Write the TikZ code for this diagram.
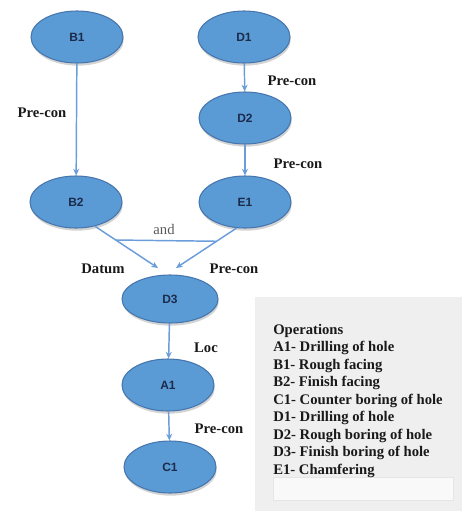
\documentclass[tikz,border=0pt]{standalone}
\usepackage{fontspec}
\setmainfont{Liberation Serif}
\setsansfont{Liberation Sans}
\usepackage{tikz}
\usetikzlibrary{arrows.meta, positioning, shapes.geometric, calc, shadows}
\definecolor{opfill}{HTML}{5B9BD5}
\definecolor{opborder}{HTML}{4676AD}
\definecolor{optext}{HTML}{1C2B4A}
\definecolor{linkblue}{HTML}{6A9DDA}
\definecolor{legendgray}{HTML}{EFEFEF}

\begin{document}
\begin{tikzpicture}[x=0.75pt, y=-0.75pt,
    op/.style={ellipse, draw=opborder, fill=opfill, line width=0.8pt,
        minimum width=69pt, minimum height=39pt, inner sep=0pt,
        font=\sffamily\bfseries\fontsize{9}{10}\selectfont, text=optext,
        drop shadow={opacity=0.35, shadow xshift=0.6pt, shadow yshift=-2pt}},
    link/.style={draw=linkblue, line width=1.1pt},
    rel/.style={link, -{Stealth[length=5pt, width=4.5pt]}},
    lbl/.style={font=\bfseries\fontsize{11}{13}\selectfont, text=black!90}]
    \useasboundingbox (0,0) rectangle (462,511);
    % legend box
    \fill[legendgray] (255,297) rectangle (462,511);
    \draw[black!10, fill=white!60!legendgray] (273,477) rectangle (453,500);
    \node[anchor=north west, align=left, inner sep=0pt, text=black!90,
        font=\bfseries\fontsize{11}{13.1}\selectfont] (ops) at (273,324)
        {Operations\\A1- Drilling of hole\\B1- Rough facing\\B2- Finish facing\\
         C1- Counter boring of hole\\D1- Drilling of hole\\D2- Rough boring of hole\\
         D3- Finish boring of hole\\E1- Chamfering};
    % operations
    \node[op] (B1) at (77,37) {B1};
    \node[op] (D1) at (244,37) {D1};
    \node[op] (D2) at (245,118) {D2};
    \node[op] (B2) at (76,202) {B2};
    \node[op] (E1) at (245,202) {E1};
    \node[op, minimum width=72pt, minimum height=36pt] (D3) at (170,299) {D3};
    \node[op] (A1) at (168,385) {A1};
    \node[op] (C1) at (170,467) {C1};
    % relations
    \draw[rel] (B1) -- (B2);
    \draw[rel] (D1) -- (D2);
    \draw[rel] (D2) -- (E1);
    \draw[rel] (D3) -- (A1);
    \draw[rel] (A1) -- (C1);
    \coordinate (dl) at (158,268);
    \coordinate (dr) at (176,268);
    \draw[rel] (B2.-52) -- (dl);
    \draw[rel] (E1.-108) -- (dr);
    \draw[link] ($(B2.-52)!0.33!(dl)$) -- ($(E1.-108)!0.33!(dr)$);
    % labels
    \node[lbl] (pcb) at (42,113) {Pre-con};
    \node[lbl] (pcd) at (292,81) {Pre-con};
    \node[lbl] (pce) at (298,164) {Pre-con};
    \node[font=\fontsize{11}{13}\selectfont, text=black!65] (and) at (164,229) {and};
    \node[lbl] (datum) at (103,269) {Datum};
    \node[lbl] (pcr) at (234,269) {Pre-con};
    \node[lbl] (loc) at (206,348) {Loc};
    \node[lbl] (pca) at (219,429) {Pre-con};
\end{tikzpicture}
\end{document}
